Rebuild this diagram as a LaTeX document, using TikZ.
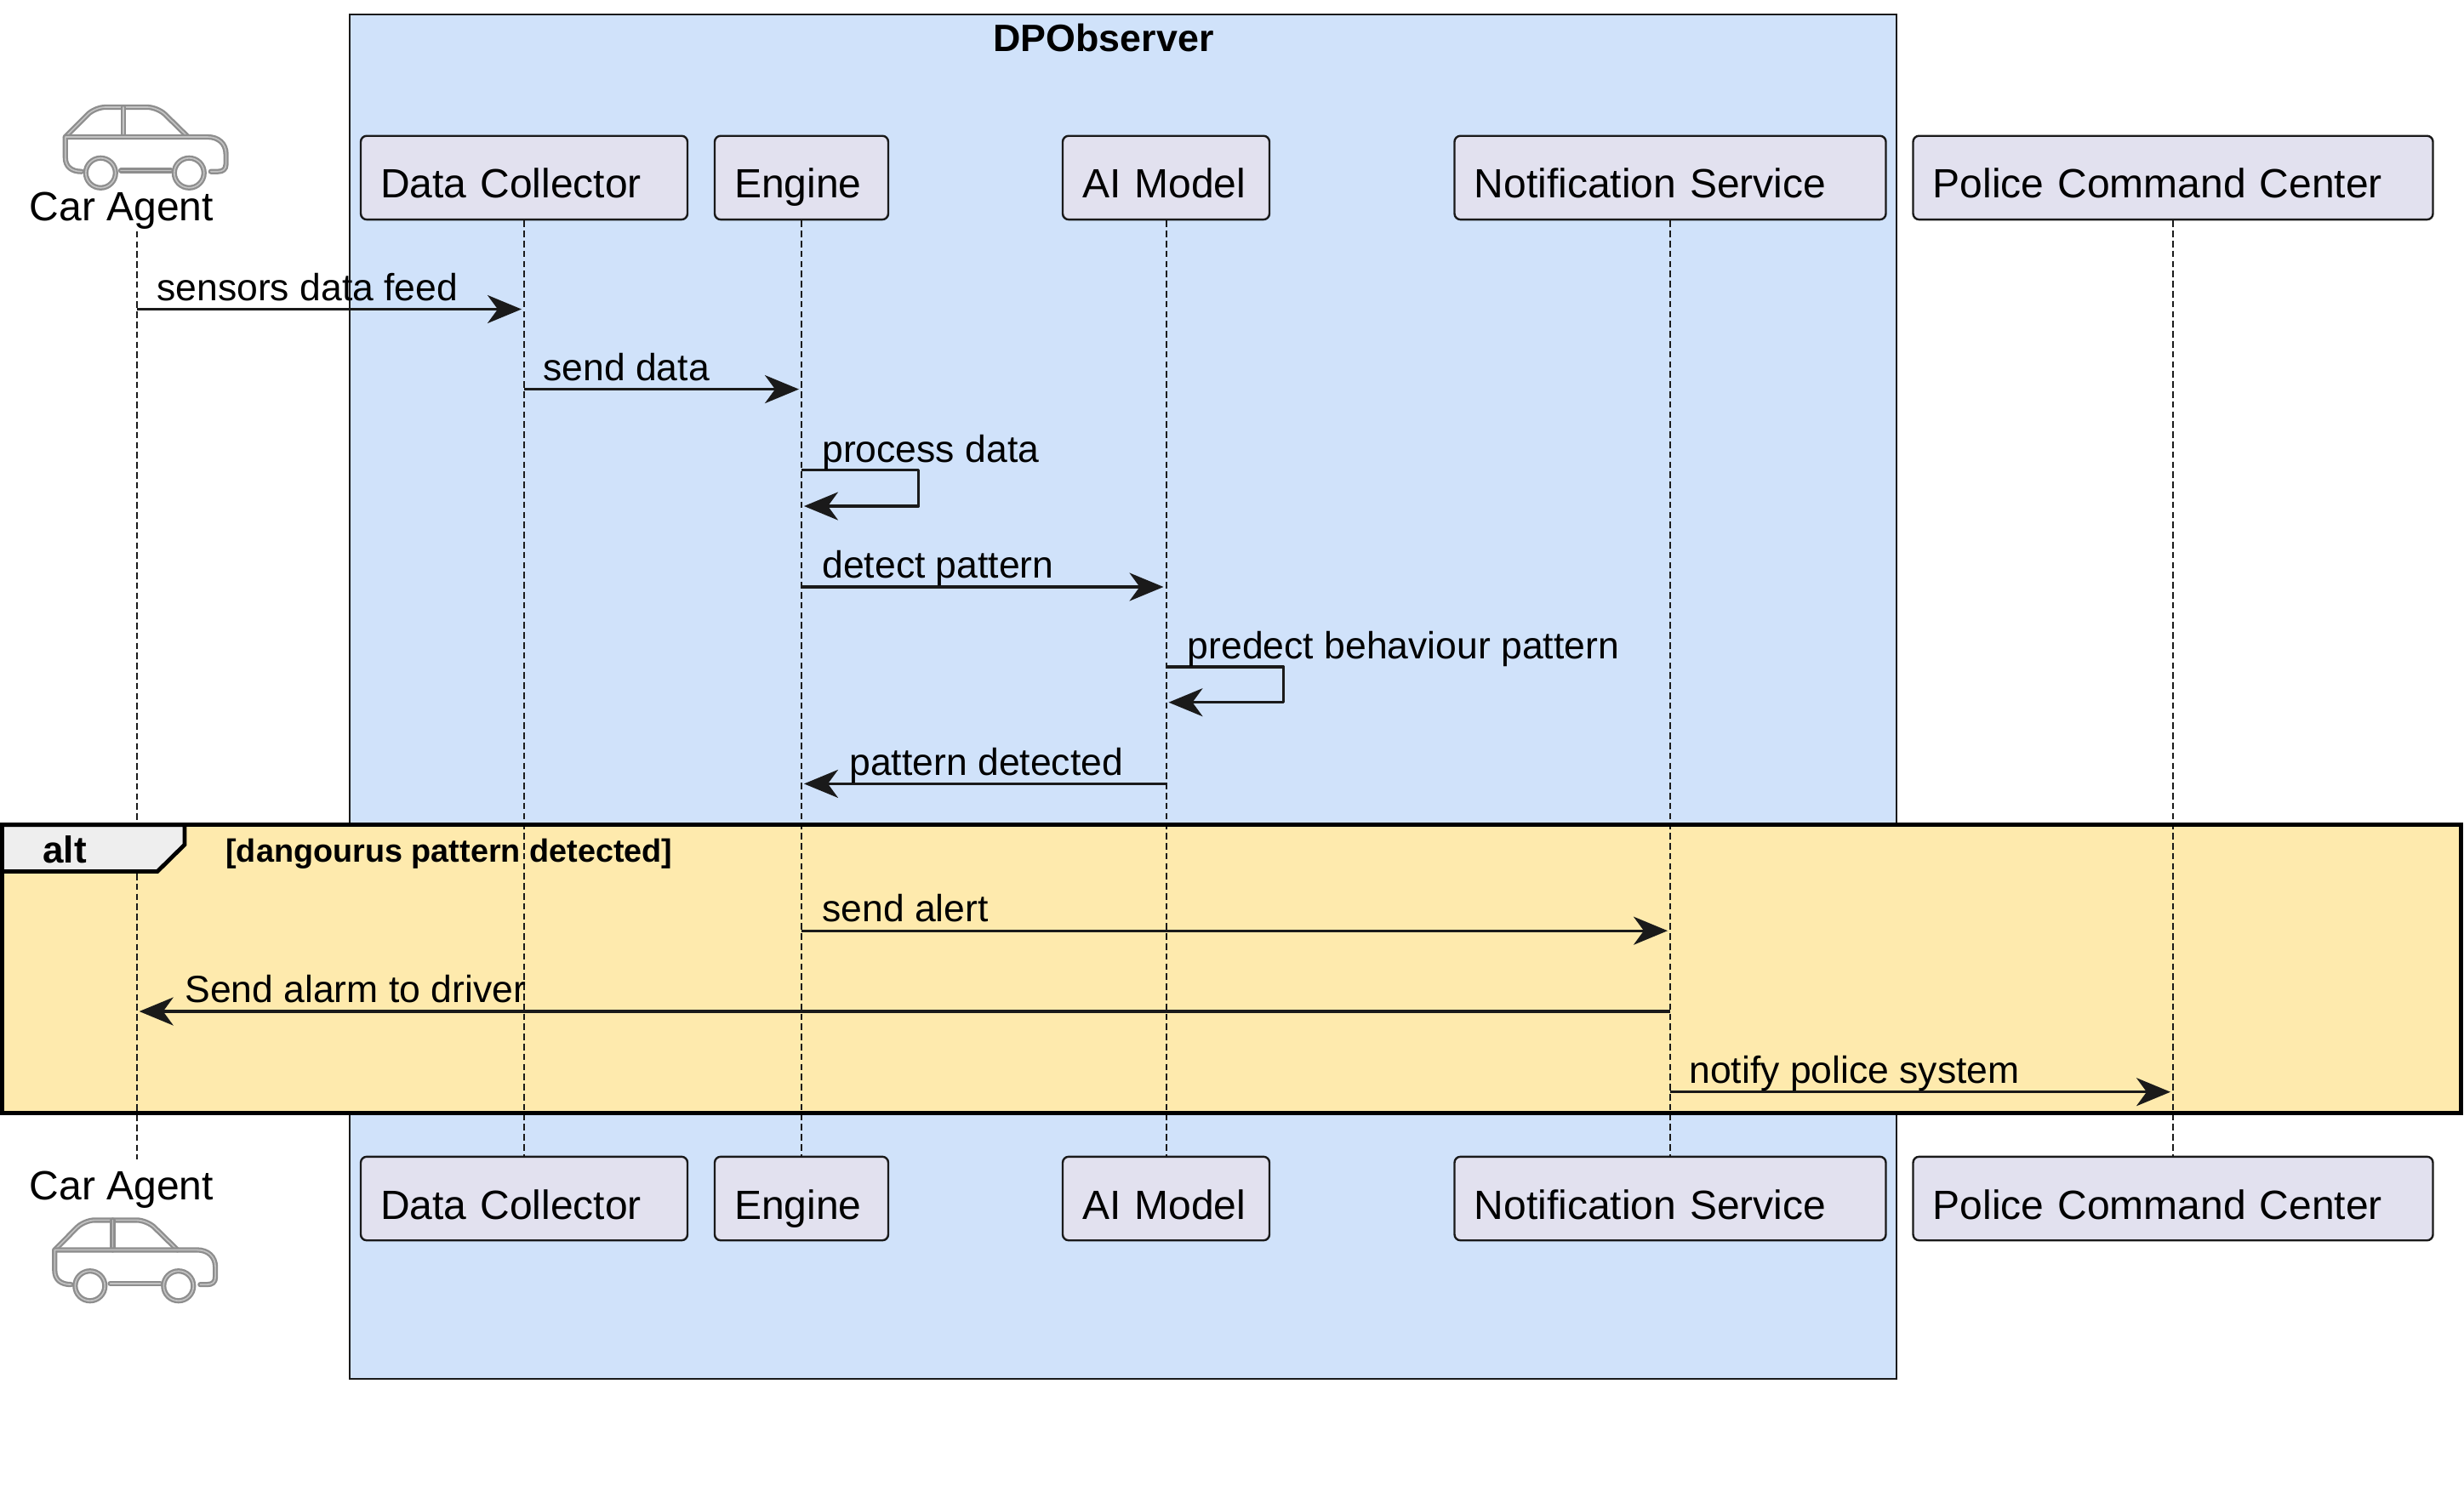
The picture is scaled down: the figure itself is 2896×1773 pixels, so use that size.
\documentclass[tikz,border=0pt]{standalone}
\usepackage{fontspec}
\setmainfont{Liberation Sans}
\usetikzlibrary{arrows.meta}

\definecolor{groupblue}{HTML}{D0E2FA}
\definecolor{altyellow}{HTML}{FEEAAD}
\definecolor{tabgrey}{HTML}{EEEEEE}
\definecolor{actorfill}{HTML}{E2E1EF}
\definecolor{inkdark}{HTML}{1A1A1A}
\definecolor{cargrey}{HTML}{8E8E8E}
\definecolor{carlight}{HTML}{C4C4C4}

\tikzset{
  actorbox/.style={
    draw=inkdark,
    fill=actorfill,
    line width=1.2pt,
    rounded corners=3.5pt,
    inner xsep=11.6pt,
    inner ysep=0pt,
    text width=#1,
    align=left,
    text height=36.6pt,
    text depth=12.6pt,
    font=\fontsize{24pt}{28pt}\selectfont,
  },
  carlabel/.style={
    anchor=base,
    inner sep=0pt,
    font=\fontsize{24pt}{28pt}\selectfont,
  },
  msgtext/.style={
    anchor=base west,
    inner sep=0pt,
    font=\fontsize{22.25pt}{26pt}\selectfont,
  },
  boldtext/.style={
    inner sep=0pt,
    font=\fontsize{#1}{26pt}\selectfont\bfseries,
  },
  lifeline/.style={
    draw=inkdark,
    line width=1pt,
    dash pattern=on 3.8pt off 2.1pt,
  },
  msgline/.style={
    draw=inkdark,
    line width=1.6pt,
    line join=round,
    shorten >=1.5pt,
    -{Stealth[length=20pt,width=16.5pt,inset=6pt]},
  },
  carline/.style={
    draw=cargrey,
    line width=1.15pt,
    double=carlight,
    double distance=0.8pt,
    line cap=round,
    line join=round,
  },
  pics/carshape/.style={
    code={
      \draw[carline,rounded corners=6pt] (76.8,160)--(111.6,125)--(185.3,125)--(221,160);
      \draw[carline] (145,125)--(145,160);
      \draw[carline] (96,200.7)..controls (84,200.7) and (76.8,195) ..(76.8,184)--(76.8,160)--(244,160)
        ..controls (257,160) and (265.6,168) ..(265.6,180)--(265.6,192)
        ..controls (265.6,198) and (262,200.7) ..(256,200.7)--(247.8,200.7);
      \draw[carline] (142,199.5)--(200.9,199.5);
      \draw[carline] (118.3,202.3) circle (17.5);
      \draw[carline] (222.3,202.3) circle (17.5);
    }
  },
}

\begin{document}
\begin{tikzpicture}[x=0.5pt,y=-0.5pt]

    \useasboundingbox (0,0) rectangle (2896,1773);

	\draw[draw=inkdark,fill=groupblue,line width=1.2pt] (410.7,17) rectangle (2229,1621);
	\node[boldtext=22.4pt,anchor=base] (groupTitle) at (1297,60) {DPObserver};

	\fill[altyellow] (2.4,969.8) rectangle (2892.5,1308.5);

	\pic at (0,1) {carshape};
	\pic at (-12.5,1309.4) {carshape};
	\node[carlabel] (carTop) at (143,259.5) {Car Agent};
	\node[carlabel] (carBottom) at (143,1410.5) {Car Agent};
	\coordinate (carHead) at (160.7,271.7);
	\coordinate (carFoot) at (160.7,1362.7);

	\node[actorbox=168.8pt] (dcTop) at (616,208.9) {Data Collector};
	\node[actorbox=78.8pt] (engTop) at (942,208.9) {Engine};
	\node[actorbox=98.3pt] (aiTop) at (1370.5,208.9) {AI Model};
	\node[actorbox=230.3pt] (nsTop) at (1963,208.9) {Notification Service};
	\node[actorbox=282.3pt] (pcTop) at (2554,208.9) {Police Command Center};

	\node[actorbox=168.8pt] (dcBottom) at (616,1409) {Data Collector};
	\node[actorbox=78.8pt] (engBottom) at (942,1409) {Engine};
	\node[actorbox=98.3pt] (aiBottom) at (1370.5,1409) {AI Model};
	\node[actorbox=230.3pt] (nsBottom) at (1963,1409) {Notification Service};
	\node[actorbox=282.3pt] (pcBottom) at (2554,1409) {Police Command Center};

	\draw[lifeline] (carHead)--(carFoot);
	\draw[lifeline] (dcTop)--(dcBottom);
	\draw[lifeline] (engTop)--(engBottom);
	\draw[lifeline] (aiTop)--(aiBottom);
	\draw[lifeline] (nsTop)--(nsBottom);
	\draw[lifeline] (pcTop)--(pcBottom);

	\coordinate (tabA) at (2.4,969.8);
	\coordinate (tabB) at (217,969.8);
	\coordinate (tabC) at (217,993);
	\coordinate (tabD) at (185,1024.5);
	\coordinate (tabE) at (2.4,1024.5);
	\draw[draw=black,fill=tabgrey,line width=2.4pt] (tabA)--(tabB)--(tabC)--(tabD)--(tabE)--cycle;
	\draw[draw=black,line width=2.5pt] (2.4,969.8) rectangle (2892.5,1308.5);
	\node[boldtext=22pt,anchor=base west] (altTag) at (50,1014.5) {alt};
	\node[boldtext=18.9pt,anchor=base west] (altGuard) at (265,1013.2) {[dangourus pattern detected]};

	\coordinate (m1a) at (160.7,363.5);
	\coordinate (m1b) at (616,363.5);
	\draw[msgline] (m1a)--(m1b);
	\node[msgtext] (m1t) at (184,353.2) {sensors data feed};

	\coordinate (m2a) at (616,457.6);
	\coordinate (m2b) at (942,457.6);
	\draw[msgline] (m2a)--(m2b);
	\node[msgtext] (m2t) at (638,447) {send data};

	\coordinate (m3a) at (942,552.3);
	\coordinate (m3b) at (1079.5,552.3);
	\coordinate (m3c) at (1079.5,595);
	\coordinate (m3d) at (942,595);
	\draw[msgline] (m3a)--(m3b)--(m3c)--(m3d);
	\node[msgtext] (m3t) at (966,543.2) {process data};

	\coordinate (m4a) at (942,690);
	\coordinate (m4b) at (1370.5,690);
	\draw[msgline] (m4a)--(m4b);
	\node[msgtext] (m4t) at (966,679.5) {detect pattern};

	\coordinate (m5a) at (1370.5,784);
	\coordinate (m5b) at (1508.5,784);
	\coordinate (m5c) at (1508.5,825.7);
	\coordinate (m5d) at (1370.5,825.7);
	\draw[msgline] (m5a)--(m5b)--(m5c)--(m5d);
	\node[msgtext] (m5t) at (1395.5,774.5) {predect behaviour pattern};

	\coordinate (m6a) at (1370.5,921.4);
	\coordinate (m6b) at (942,921.4);
	\draw[msgline] (m6a)--(m6b);
	\node[msgtext] (m6t) at (998,911.5) {pattern detected};

	\coordinate (m7a) at (942,1094.2);
	\coordinate (m7b) at (1963,1094.2);
	\draw[msgline] (m7a)--(m7b);
	\node[msgtext] (m7t) at (966,1083.5) {send alert};

	\coordinate (m8a) at (1963,1189);
	\coordinate (m8b) at (160.7,1189);
	\draw[msgline] (m8a)--(m8b);
	\node[msgtext] (m8t) at (217,1178.5) {Send alarm to driver};

	\coordinate (m9a) at (1963,1283.7);
	\coordinate (m9b) at (2554,1283.7);
	\draw[msgline] (m9a)--(m9b);
	\node[msgtext] (m9t) at (1985,1273.5) {notify police system};

\end{tikzpicture}
\end{document}
